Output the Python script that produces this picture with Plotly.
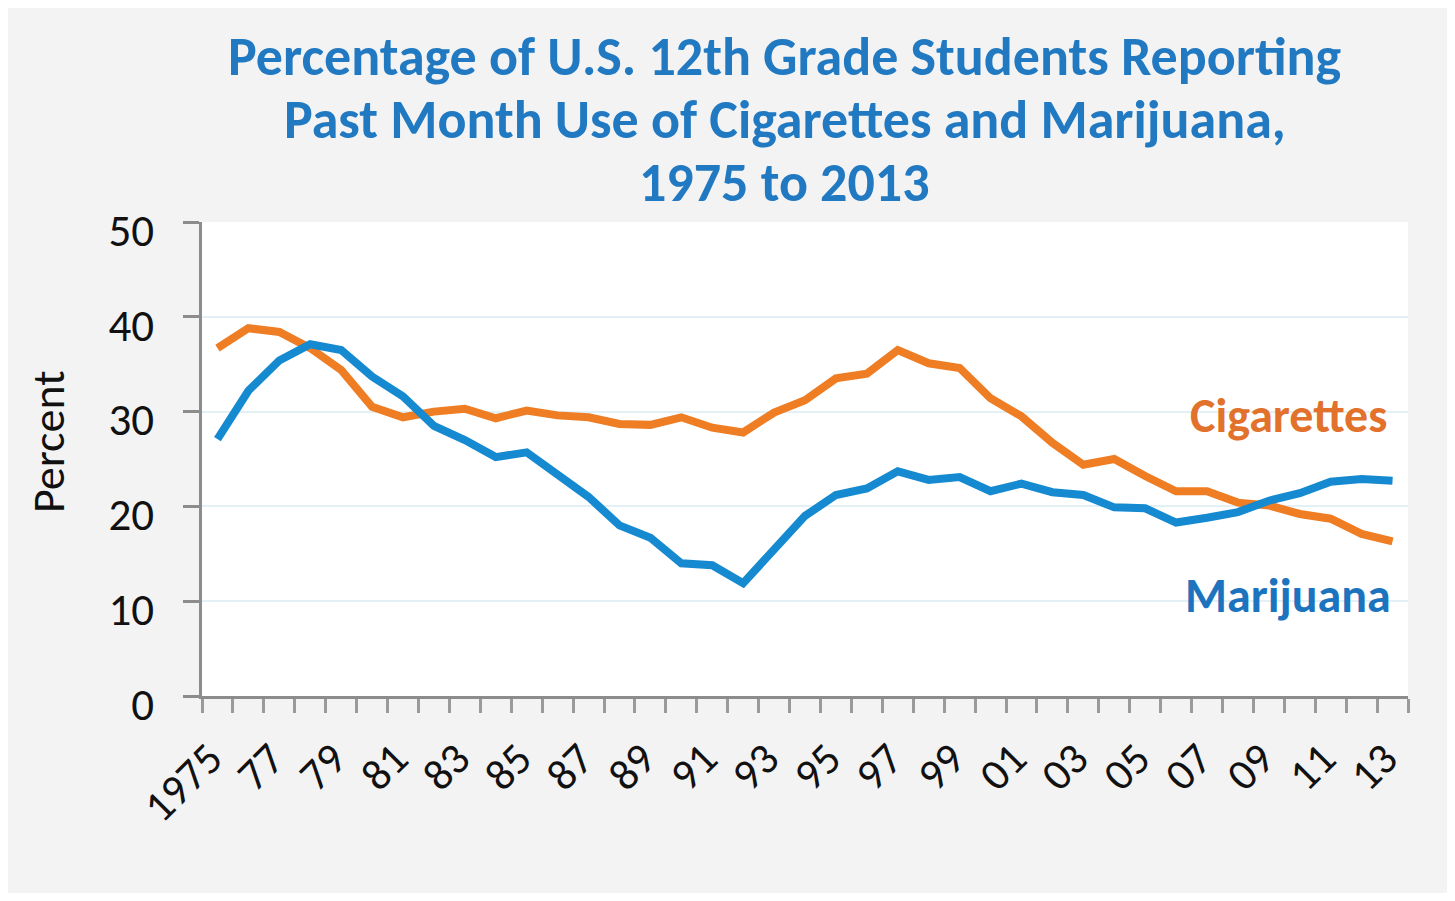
import plotly.graph_objects as go

# ---------------------------------------------------------------------------
# Data
# ---------------------------------------------------------------------------
years = list(range(1975, 2014))

cigarettes = [
    36.7, 38.8, 38.4, 36.7, 34.4, 30.5, 29.4, 30.0, 30.3, 29.3,
    30.1, 29.6, 29.4, 28.7, 28.6, 29.4, 28.3, 27.8, 29.9, 31.2,
    33.5, 34.0, 36.5, 35.1, 34.6, 31.4, 29.5, 26.7, 24.4, 25.0,
    23.2, 21.6, 21.6, 20.4, 20.1, 19.2, 18.7, 17.1, 16.3,
]
marijuana = [
    27.1, 32.2, 35.4, 37.1, 36.5, 33.7, 31.6, 28.5, 27.0, 25.2,
    25.7, 23.4, 21.0, 18.0, 16.7, 14.0, 13.8, 11.9, 15.5, 19.0,
    21.2, 21.9, 23.7, 22.8, 23.1, 21.6, 22.4, 21.5, 21.2, 19.9,
    19.8, 18.3, 18.8, 19.4, 20.6, 21.4, 22.6, 22.9, 22.7,
]

label_years = years[::2]
label_text = ["1975"] + [f"{y % 100:02d}" for y in label_years[1:]]
boundaries = [y - 0.5 for y in years] + [years[-1] + 0.5]

title_lines = [
    "Percentage of U.S. 12th Grade Students Reporting",
    "Past Month Use of Cigarettes and Marijuana,",
    "1975 to 2013",
]

ORANGE = "#EE7D23"
ORANGE_TXT = "#E2712B"
BLUE = "#158AD1"
BLUE_TXT = "#1C74BE"
TITLE_BLUE = "#2179C2"
FONT = "Carlito, Lato, sans-serif"

fig = go.Figure()
fig.add_trace(go.Scatter(x=years, y=cigarettes, mode="lines", name="Cigarettes",
                         line=dict(color=ORANGE, width=8)))
fig.add_trace(go.Scatter(x=years, y=marijuana, mode="lines", name="Marijuana",
                         line=dict(color=BLUE, width=8)))

# series labels at the right end of the lines
fig.add_annotation(x=2012.9, y=29.6, xref="x", yref="y", text="<b>Cigarettes</b>",
                   showarrow=False, xanchor="right", yanchor="middle",
                   font=dict(family=FONT, size=48, color=ORANGE_TXT))
fig.add_annotation(x=2013.0, y=10.6, xref="x", yref="y", text="<b>Marijuana</b>",
                   showarrow=False, xanchor="right", yanchor="middle",
                   font=dict(family=FONT, size=48, color=BLUE_TXT))

# title, one annotation per line so the line spacing follows the reference
for i, line in enumerate(title_lines):
    fig.add_annotation(
        x=0.4834, y=1.4220 - 0.1329 * i, xref="paper", yref="paper",
        text=f"<b>{line}</b>", showarrow=False,
        xanchor="center", yanchor="top",
        font=dict(family=FONT, size=54, color=TITLE_BLUE),
    )

# y-axis title, a bit above the plot's middle as in the reference
fig.add_annotation(
    x=-0.1277, y=0.538, xref="paper", yref="paper", text="Percent",
    showarrow=False, textangle=-90, xanchor="center", yanchor="middle",
    font=dict(family=FONT, size=46, color="#111111"),
)

fig.update_layout(
    width=1439, height=885,
    margin=dict(l=194, r=39, t=214, b=197),
    paper_bgcolor="#F3F3F3",
    plot_bgcolor="#FFFFFF",
    showlegend=False,
)

fig.update_xaxes(
    range=[1974.5, 2013.5],
    tickmode="array", tickvals=label_years, ticktext=label_text,
    tickangle=-45, ticks="", ticklabelstandoff=16, ticklabelshift=-8,
    tickfont=dict(family=FONT, size=44, color="#111111"),
    showgrid=False, zeroline=False,
    showline=True, linecolor="#8C8C8C", linewidth=3,
    minor=dict(tickmode="array", tickvals=boundaries, ticks="outside",
               ticklen=14, tickwidth=3, tickcolor="#9A9A9A", showgrid=False),
)
fig.update_yaxes(
    range=[0, 50], tickmode="array", tickvals=[0, 10, 20, 30, 40, 50],
    ticks="outside", ticklen=16, tickwidth=3, tickcolor="#8C8C8C",
    ticklabelstandoff=20, ticklabelshift=8,
    tickfont=dict(family=FONT, size=45, color="#111111"),
    showgrid=True, gridcolor="#E3F1F7", gridwidth=2, zeroline=False,
    showline=True, linecolor="#8C8C8C", linewidth=3,
)

fig.write_html("out.html")
